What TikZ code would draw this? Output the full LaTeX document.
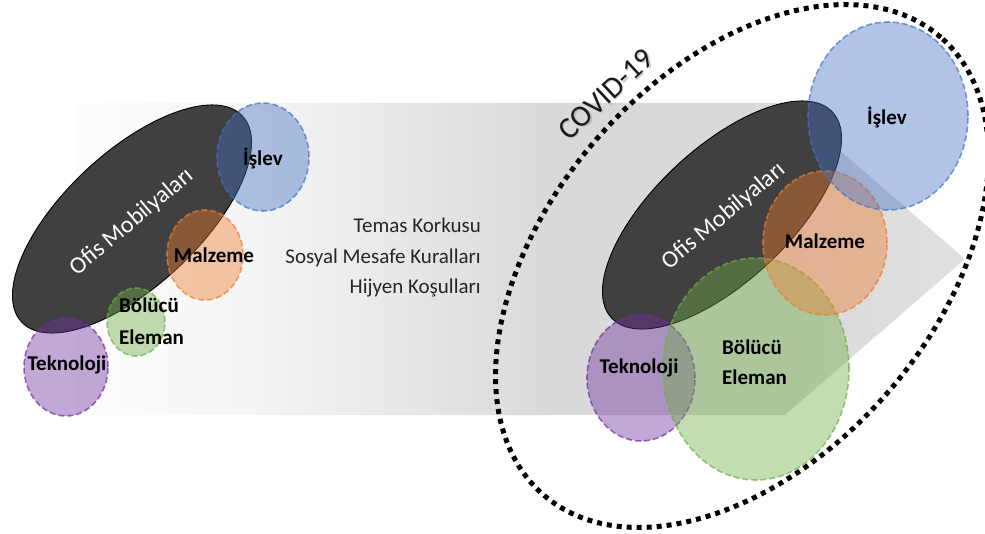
\documentclass[tikz,border=0pt]{standalone}
\usepackage{fontspec}
\setmainfont{Carlito}
\usetikzlibrary{shapes.geometric}
\definecolor{cblue}{HTML}{4472C4}
\definecolor{corange}{HTML}{ED7D31}
\definecolor{cgreen}{HTML}{70AD47}
\definecolor{cpurple}{HTML}{7030A0}
\definecolor{ofisfill}{HTML}{404040}
\pgfdeclarehorizontalshading{arrowshade}{100bp}{color(0bp)=(white); color(25bp)=(white!99!black); color(35bp)=(white!96!black); color(43bp)=(white!91!black); color(52bp)=(white!85!black); color(65bp)=(white!85!black); color(75bp)=(white!88!black); color(100bp)=(white!88!black)}
\begin{document}
\begin{tikzpicture}[x=1pt,y=-1pt,
  bubble/.style={ellipse, inner sep=0pt, outer sep=0pt, line width=1.6pt, dash pattern=on 6pt off 3pt, fill opacity=0.42, draw opacity=0.7},
  ofis/.style={ellipse, inner sep=0pt, outer sep=0pt, fill=ofisfill, draw=black, line width=0.9pt, minimum width=302pt, minimum height=134pt, rotate=43},
  lbl/.style={font=\fontsize{21}{30}\selectfont\bfseries, inner sep=0pt, text=black},
  plain/.style={font=\fontsize{21}{30.5}\selectfont, inner sep=0pt, text=black!85},
  ofistext/.style={font=\fontsize{24}{26}\selectfont, inner sep=0pt, text=white, rotate=40},
  covid/.style={ellipse, inner sep=0pt, outer sep=0pt, draw=black, line width=5pt, dash pattern=on 5pt off 5pt, minimum width=606pt, minimum height=386pt, rotate=49},
  covidlbl/.style={font=\fontsize{30}{34}\selectfont, inner sep=0pt, rotate=43}
]
\useasboundingbox (0,0) rectangle (985,534);
% big arrow
\shade[shading=arrowshade] (75,103) -- (785,103) -- (965,259) -- (785,415) -- (75,415) -- cycle;
% COVID dotted ellipse
\node[covid] (covidring) at (742,266) {};
% black ellipses
\node[ofis] (ofisL) at (132,219) {};
\node[ofis] (ofisR) at (722,215) {};
% left bubbles
\node[bubble, fill=cpurple, draw=cpurple, minimum width=84pt, minimum height=98pt] (teknoL) at (66,367) {};
\node[bubble, fill=cgreen, draw=cgreen, minimum width=58pt, minimum height=68pt] (bolL) at (136,322) {};
\node[bubble, fill=corange, draw=corange, minimum width=76pt, minimum height=90pt] (malL) at (205,255) {};
\node[bubble, fill=cblue, draw=cblue, minimum width=92pt, minimum height=108pt] (islL) at (263,157) {};
% right bubbles
\node[bubble, fill=cpurple, draw=cpurple, minimum width=108pt, minimum height=126pt] (teknoR) at (641,378) {};
\node[bubble, fill=cgreen, draw=cgreen, minimum width=186pt, minimum height=222pt] (bolR) at (756,369) {};
\node[bubble, fill=corange, draw=corange, minimum width=124pt, minimum height=144pt] (malR) at (825,243) {};
\node[bubble, fill=cblue, draw=cblue, minimum width=160pt, minimum height=188pt] (islR) at (888,116) {};
% texts left
\node[ofistext] (ofisLt) at (132,222) {Ofis Mobilyaları};
\node[lbl] (islLt) at (263,158) {İşlev};
\node[lbl] (malLt) at (214,255) {Malzeme};
\node[lbl, anchor=west, align=left, font=\fontsize{21}{32}\selectfont\bfseries] (bolLt) at (119,321) {Bölücü\\Eleman};
\node[lbl] (teknoLt) at (67,365) {Teknoloji};
% middle text
\node[plain, anchor=east, align=right] (midtext) at (481,258) {Temas Korkusu\\Sosyal Mesafe Kuralları\\Hijyen Koşulları};
% texts right
\node[ofistext] (ofisRt) at (724,216) {Ofis Mobilyaları};
\node[lbl] (islRt) at (887,117) {İşlev};
\node[lbl] (malRt) at (825,241) {Malzeme};
\node[lbl, anchor=west, align=left] (bolRt) at (722,362) {Bölücü\\Eleman};
\node[lbl] (teknoRt) at (639,368) {Teknoloji};
% COVID-19 label
\node[covidlbl, text=black!40, opacity=0.5] (covidshadow) at (607.5,95.5) {COVID-19};
\node[covidlbl, text=black!90] (covidtext) at (606,94) {COVID-19};
\end{tikzpicture}
\end{document}
